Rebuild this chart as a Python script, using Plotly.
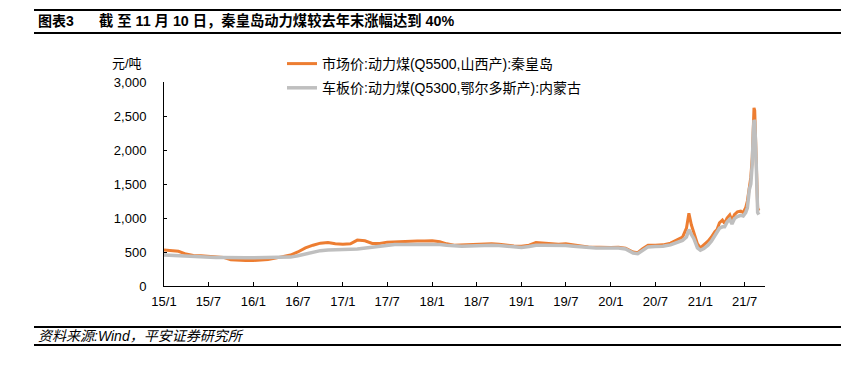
import plotly.graph_objects as go

# ---------------- data ----------------
dates = [
    "2015-01-01", "2015-02-01", "2015-03-01", "2015-04-01", "2015-05-01", "2015-06-01",
    "2015-07-01", "2015-08-01", "2015-09-01", "2015-10-01", "2015-11-01", "2015-12-01",
    "2016-01-01", "2016-02-01", "2016-03-01", "2016-04-01", "2016-05-01", "2016-06-01",
    "2016-07-01", "2016-08-01", "2016-09-01", "2016-10-01", "2016-11-01", "2016-12-01",
    "2017-01-01", "2017-02-01", "2017-03-01", "2017-04-01", "2017-05-01", "2017-06-01",
    "2017-07-01", "2017-08-01", "2017-09-01", "2017-10-01", "2017-11-01", "2017-12-01",
    "2018-01-01", "2018-02-01", "2018-03-01", "2018-04-01", "2018-05-01", "2018-06-01",
    "2018-07-01", "2018-08-01", "2018-09-01", "2018-10-01", "2018-11-01", "2018-12-01",
    "2019-01-01", "2019-02-01", "2019-03-01", "2019-04-01", "2019-05-01", "2019-06-01",
    "2019-07-01", "2019-08-01", "2019-09-01", "2019-10-01", "2019-11-01", "2019-12-01",
    "2020-01-01", "2020-02-01", "2020-03-01", "2020-04-01", "2020-04-20", "2020-05-10",
    "2020-06-01", "2020-07-01", "2020-08-01", "2020-09-01", "2020-10-01", "2020-10-20",
    "2020-11-05", "2020-11-15", "2020-11-25", "2020-12-05", "2020-12-20", "2021-01-01",
    "2021-01-15", "2021-02-01", "2021-02-15", "2021-03-01", "2021-03-10", "2021-03-20",
    "2021-04-01", "2021-04-10", "2021-04-20", "2021-05-01", "2021-05-10", "2021-05-20",
    "2021-06-01", "2021-06-15", "2021-06-25", "2021-07-05", "2021-07-12", "2021-07-20",
    "2021-07-26", "2021-08-01", "2021-08-05", "2021-08-08", "2021-08-11", "2021-08-15",
    "2021-08-19", "2021-08-23", "2021-08-28",
]

qhd_q5500 = [
    530, 520, 510, 470, 450, 445,
    440, 430, 420, 385, 375, 375,
    375, 380, 390, 410, 430, 455,
    500, 560, 600, 630, 640, 620,
    615, 620, 675, 665, 625, 625,
    645, 650, 660, 655, 660, 660,
    665, 650, 620, 600, 605, 610,
    615, 620, 620, 615, 600, 590,
    585, 600, 640, 630, 625, 615,
    620, 600, 590, 575, 570, 565,
    565, 570, 555, 500, 490, 550,
    600, 600, 605, 630, 680, 720,
    850, 1070, 900, 780, 620, 560,
    600, 660, 720, 800, 830, 930,
    970, 920, 1000, 1045, 960, 1050,
    1090, 1100, 1080, 1150, 1250, 1500,
    1600, 1900, 2400, 2620, 2580, 2150,
    1410, 1150, 1110,
]

ordos_q5300 = [
    455, 450, 445, 430, 425, 425,
    425, 420, 420, 415, 415, 415,
    415, 415, 415, 415, 420, 425,
    445, 470, 500, 520, 530, 530,
    535, 540, 545, 560, 570, 590,
    605, 610, 610, 610, 615, 615,
    615, 610, 600, 590, 585, 590,
    595, 600, 600, 595, 585, 570,
    565, 580, 600, 600, 600, 595,
    595, 585, 575, 565, 560, 560,
    560, 560, 545, 485, 475, 520,
    575, 580, 585, 605, 640, 670,
    720, 830, 760, 700, 560, 525,
    550, 600, 660, 740, 770, 850,
    870, 870, 940, 980, 910, 990,
    1020, 1040, 1030, 1080, 1150, 1420,
    1500, 1800, 2250, 2440, 2420, 2050,
    1300, 1080, 1050,
]

series_names = ["市场价:动力煤(Q5500,山西产):秦皇岛", "车板价:动力煤(Q5300,鄂尔多斯产):内蒙古"]

x_tick_vals = ["2015-01-01", "2015-07-01", "2016-01-01", "2016-07-01", "2017-01-01", "2017-07-01",
               "2018-01-01", "2018-07-01", "2019-01-01", "2019-07-01", "2020-01-01", "2020-07-01",
               "2021-01-01", "2021-07-01"]
x_tick_text = ["15/1", "15/7", "16/1", "16/7", "17/1", "17/7", "18/1", "18/7", "19/1", "19/7",
               "20/1", "20/7", "21/1", "21/7"]
y_tick_vals = [0, 500, 1000, 1500, 2000, 2500, 3000]

title_label = "图表3"
title_text = "截 至 11 月 10 日，秦皇岛动力煤较去年末涨幅达到 40%"
unit_text = "元/吨"
source_text = "资料来源:Wind，平安证券研究所"

# ---------------- layout helpers ----------------
# The page body adds an 8px margin, so the figure is drawn 8px in from the window edge.
OFF = 8
W, H = 849 - OFF, 367 - OFF
L, R, T, B = 164, 765, 82, 286  # plot area in window pixels


def px(x):
    return (x - L) / (R - L)


def py(y):
    return (B - y) / (B - T)


FONT = "Liberation Sans, Arial, Noto Sans CJK SC, sans-serif"
CJK = "Liberation Sans, Noto Sans CJK SC, sans-serif"

fig = go.Figure()
fig.add_trace(go.Scatter(
    x=dates, y=qhd_q5500, mode="lines", name=series_names[0],
    line=dict(color="#ED7D31", width=3), legendgroup="a",
))
fig.add_trace(go.Scatter(
    x=dates, y=ordos_q5300, mode="lines", name=series_names[1],
    line=dict(color="#BFBFBF", width=3.5), legendgroup="b",
))

shapes = []
for yy in (10, 33, 327, 345):
    shapes.append(dict(type="line", xref="paper", yref="paper",
                       x0=px(34), x1=px(843), y0=py(yy), y1=py(yy),
                       line=dict(color="black", width=2)))

annotations = [
    dict(text="<b>" + title_label + "</b>", xref="paper", yref="paper", x=px(36), y=py(21),
         xanchor="left", yanchor="middle", showarrow=False,
         font=dict(family=CJK, size=14, color="black")),
    dict(text="<b>" + title_text + "</b>", xref="paper", yref="paper", x=px(97), y=py(21),
         xanchor="left", yanchor="middle", showarrow=False,
         font=dict(family=CJK, size=14.3, color="black")),
    dict(text=unit_text, xref="paper", yref="paper", x=px(127), y=py(63),
         xanchor="center", yanchor="middle", showarrow=False,
         font=dict(family=CJK, size=13, color="black")),
    dict(text="<i>" + source_text + "</i>", xref="paper", yref="paper", x=px(36), y=py(336),
         xanchor="left", yanchor="middle", showarrow=False,
         font=dict(family=CJK, size=14, color="black")),
]

fig.update_layout(
    width=W, height=H,
    margin=dict(l=L - OFF, r=W - (R - OFF), t=T - OFF, b=H - (B - OFF), pad=0),
    paper_bgcolor="white", plot_bgcolor="white",
    font=dict(family=FONT, size=13, color="black"),
    showlegend=True,
    legend=dict(x=px(282), y=py(48), xanchor="left", yanchor="top",
                bgcolor="rgba(0,0,0,0)", itemwidth=30, tracegroupgap=3,
                font=dict(family=CJK, size=14, color="black")),
    shapes=shapes,
    annotations=annotations,
    xaxis=dict(
        type="date", range=["2015-01-01", "2021-09-22"],
        tickmode="array", tickvals=x_tick_vals, ticktext=x_tick_text,
        showline=True, linecolor="black", linewidth=1,
        ticks="inside", ticklen=4, tickcolor="black",
        showgrid=False, zeroline=False,
        tickfont=dict(family=FONT, size=13, color="black"),
        ticklabelstandoff=3,
    ),
    yaxis=dict(
        range=[0, 3000], tickmode="array", tickvals=y_tick_vals, tickformat=",d",
        showline=True, linecolor="black", linewidth=1,
        ticks="inside", ticklen=3, tickcolor="black",
        showgrid=False, zeroline=False,
        tickfont=dict(family=FONT, size=13, color="black"),
        ticklabelstandoff=14,
    ),
)

fig.write_html("out.html")
